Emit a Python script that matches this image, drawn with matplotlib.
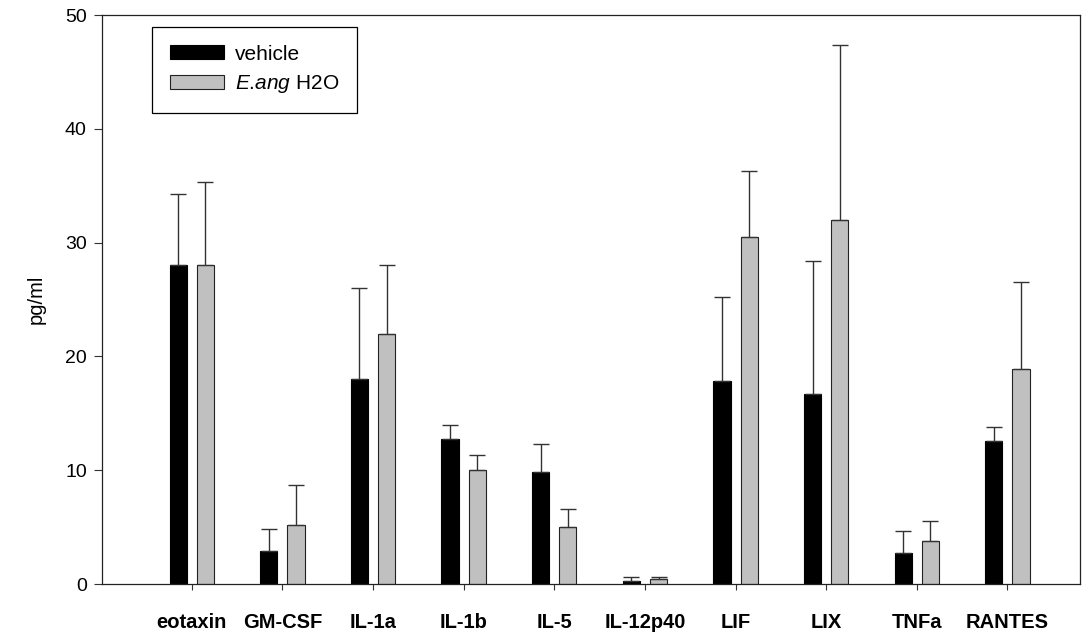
import matplotlib
matplotlib.use("Agg")
import matplotlib.pyplot as plt
import numpy as np

categories = ["eotaxin", "GM-CSF", "IL-1a", "IL-1b", "IL-5", "IL-12p40", "LIF", "LIX", "TNFa", "RANTES"]
vehicle = [28.0, 2.9, 18.0, 12.7, 9.8, 0.3, 17.8, 16.7, 2.7, 12.6]
vehicle_err = [6.3, 1.9, 8.0, 1.3, 2.5, 0.3, 7.4, 11.7, 2.0, 1.2]
eang = [28.0, 5.2, 22.0, 10.0, 5.0, 0.4, 30.5, 32.0, 3.8, 18.9]
eang_err = [7.3, 3.5, 6.0, 1.3, 1.6, 0.2, 5.8, 15.4, 1.7, 7.6]
yticks = [0, 10, 20, 30, 40, 50]

plt.rcParams['font.family'] = ['Liberation Sans', 'DejaVu Sans']
plt.rcParams['mathtext.fontset'] = 'custom'
plt.rcParams['mathtext.it'] = 'Liberation Sans:italic'
plt.rcParams['mathtext.rm'] = 'Liberation Sans'

fig = plt.figure(figsize=(10.89, 6.33), dpi=100)
ax = fig.add_axes([0.0937, 0.0774, 0.898, 0.8989])

x = np.arange(len(categories))
off = 0.15
w = 0.19
ekw = dict(ecolor='#333333', elinewidth=1.0, capthick=1.0)
ax.bar(x - off, vehicle, w, color='black', edgecolor='black', linewidth=0.8,
       yerr=[np.zeros(len(x)), vehicle_err], capsize=6, error_kw=ekw, label='vehicle', zorder=2)
ax.bar(x + off, eang, w, color='#c0c0c0', edgecolor='#222222', linewidth=0.8,
       yerr=[np.zeros(len(x)), eang_err], capsize=6, error_kw=ekw,
       label='$\\it{E}$.$\\it{ang}$ H2O', zorder=2)

ax.set_xlim(-0.99, 9.8)
ax.set_ylim(0, 50)
ax.set_yticks(yticks)
ax.set_xticks(x)
ax.set_xticklabels(categories, fontweight='bold', fontsize=14.5)
ax.tick_params(axis='y', direction='out', length=6, labelsize=14, width=0.8, color='#333333', pad=5)
ax.tick_params(axis='x', direction='out', length=4, pad=17, width=0.8, color='#333333')
for s in ax.spines.values():
    s.set_linewidth(0.9)
    s.set_color('#222222')
ax.set_ylabel('pg/ml', fontsize=14.5, labelpad=14)

leg = ax.legend(loc='upper left', bbox_to_anchor=(0.051, 0.979), borderaxespad=0,
                fontsize=15, fancybox=False, edgecolor='black', framealpha=1,
                handlelength=2.6, handleheight=0.65, borderpad=0.85, labelspacing=0.45,
                handletextpad=0.55)
leg.get_frame().set_linewidth(0.9)

fig.savefig('out.png', dpi=100)
